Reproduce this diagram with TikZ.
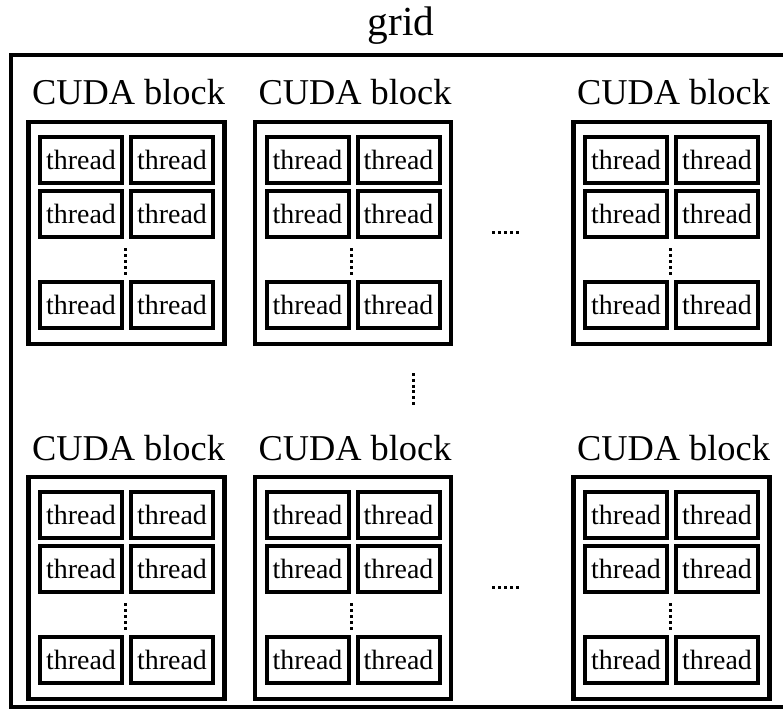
\documentclass[tikz,border=0pt]{standalone}
\usepackage{fontspec}
\setmainfont{Liberation Serif}
\begin{document}
\begin{tikzpicture}[x=1bp,y=-1bp,
  gridframe/.style={draw, line width=3.5bp},
  blockbox/.style={draw, line width=4.5bp, minimum width=196bp, minimum height=222bp,
    inner sep=0pt, outer sep=0pt, anchor=north west},
  threadbox/.style={draw, line width=4bp, minimum width=82bp, minimum height=46bp,
    inner sep=0pt, outer sep=0pt, font=\fontsize{28}{30}\selectfont},
  blocklabel/.style={font=\fontsize{36.5}{40}\selectfont, anchor=base, inner sep=0pt},
  dotrow/.style={line width=3bp, dash pattern=on 3bp off 3bp},
]
\clip (0,0) rectangle (783,709);
% outer grid frame (runs off the right edge)
\draw[gridframe] (11,55) rectangle (800,707);
\node[font=\fontsize{41.5}{44}\selectfont, anchor=base, inner sep=0pt] (gridlabel) at (401,36) {grid};

% CUDA blocks: top-left corner and name
\foreach \bx/\by/\id in {28.5/122/a, 255/122/b, 573.5/122/c, 28.5/477/d, 255/477/e, 573.5/477/f}{
  \node[blockbox] (blk\id) at (\bx,\by) {};
  \node[blocklabel] (lbl\id) at (\bx+100,\by-17) {CUDA block};
  \node[threadbox] (th\id a) at (\bx+52.5,\by+38) {thread};
  \node[threadbox] (th\id b) at (\bx+143.5,\by+38) {thread};
  \node[threadbox] (th\id c) at (\bx+52.5,\by+92) {thread};
  \node[threadbox] (th\id d) at (\bx+143.5,\by+92) {thread};
  \node[threadbox] (th\id e) at (\bx+52.5,\by+183) {thread};
  \node[threadbox] (th\id f) at (\bx+143.5,\by+183) {thread};
  \coordinate (vd\id1) at (\bx+96.5,\by+126);
  \coordinate (vd\id2) at (\bx+96.5,\by+153);
  \draw[dotrow] (vd\id1) -- (vd\id2);
}

% ellipses between blocks
\coordinate (hdA1) at (492,232);
\coordinate (hdA2) at (521,232);
\coordinate (hdB1) at (492,587);
\coordinate (hdB2) at (521,587);
\coordinate (mid1) at (413,373);
\coordinate (mid2) at (413,407);
\draw[dotrow] (hdA1) -- (hdA2);
\draw[dotrow] (hdB1) -- (hdB2);
\draw[line width=3bp, dash pattern=on 3bp off 2.8bp] (mid1) -- (mid2);
\end{tikzpicture}
\end{document}
